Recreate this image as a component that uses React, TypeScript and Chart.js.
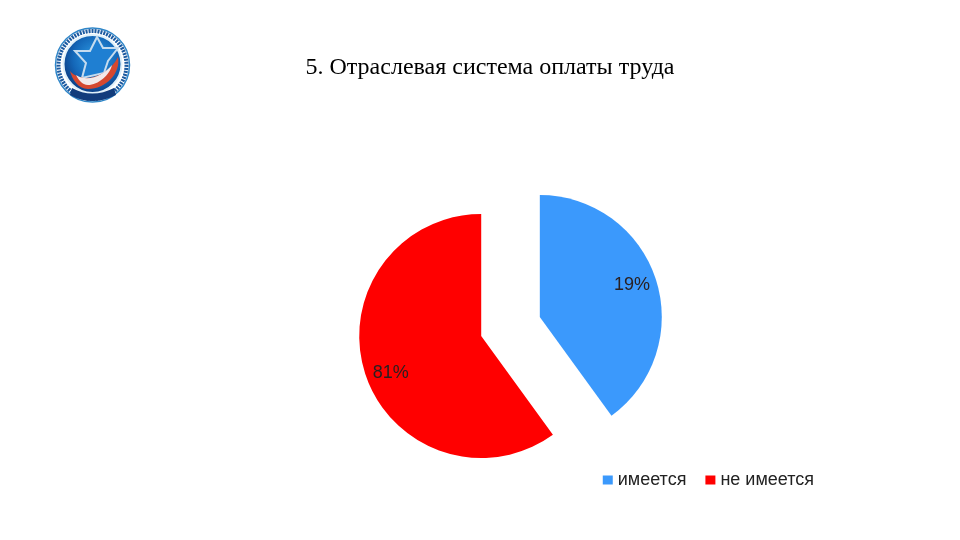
import React, { useEffect, useRef } from "react";
import { Chart, PieController, ArcElement, registerables } from "chart.js";

const title = "5. Отраслевая система оплаты труда";
const categories = ["имеется", "не имеется"];
// swept share of the circle as drawn in the picture
const sliceShares = [40, 60];
// printed labels (the picture's text does not follow the drawn shares)
const sliceLabels = ["19%", "81%"];
const sliceColors = ["#3b99fc", "#ff0000"];

// where the printed label sits on each slice, clockwise from 12 o'clock
const labelAngles = [71, 248];
const explode = 30.8;

// the built-in arc offset also grows the radius of big slices, so move the arcs here instead
class ExplodedArc extends ArcElement {
  static id = "explodedArc";
  draw(ctx: CanvasRenderingContext2D) {
    const mid = ((this as any).startAngle + (this as any).endAngle) / 2;
    ctx.save();
    ctx.translate(Math.cos(mid) * explode, Math.sin(mid) * explode);
    super.draw(ctx);
    ctx.restore();
  }
}

class ExplodedPie extends PieController {
  static id = "explodedPie";
  static defaults = { dataElementType: "explodedArc" };
  static overrides = PieController.overrides;
}

Chart.register(...registerables, ExplodedArc, ExplodedPie);

const sliceLabelPlugin = {
  id: "sliceLabels",
  afterDatasetsDraw(chart: Chart) {
    const { ctx } = chart;
    const arcs = chart.getDatasetMeta(0).data as any[];
    ctx.save();
    ctx.font = '18px "Liberation Sans"';
    ctx.fillStyle = "#2a2020";
    ctx.textAlign = "center";
    ctx.textBaseline = "middle";
    arcs.forEach((arc, i) => {
      const mid = (arc.startAngle + arc.endAngle) / 2;
      const a = ((labelAngles[i] - 90) * Math.PI) / 180;
      const r = arc.outerRadius * 0.8;
      ctx.fillText(
        sliceLabels[i],
        arc.x + Math.cos(mid) * explode + Math.cos(a) * r,
        arc.y + Math.sin(mid) * explode + Math.sin(a) * r
      );
    });
    ctx.restore();
  },
};

const Logo: React.FC = () => (
  <svg
    width="160"
    height="120"
    viewBox="0 0 160 120"
    style={{ position: "absolute", left: 0, top: 0 }}
  >
    <defs>
      <radialGradient id="disc" cx="55%" cy="40%" r="60%">
        <stop offset="0%" stopColor="#2f9fe8" />
        <stop offset="65%" stopColor="#1467b8" />
        <stop offset="100%" stopColor="#0d3f86" />
      </radialGradient>
    </defs>
    <circle cx="92.5" cy="65" r="37" fill="#ffffff" stroke="#2f86c8" strokeWidth="1.5" />
    <circle
      cx="92.5"
      cy="65"
      r="34"
      fill="none"
      stroke="#1c5aa0"
      strokeWidth="4"
      strokeDasharray="2 1"
    />
    <circle cx="92.5" cy="64" r="29" fill="url(#disc)" stroke="#dff0fa" strokeWidth="2" />
    <path
      d="M97 37 L103 48 L118 48 L108 61 L104 73 L82 78 L86 63 L75 51 L90 51 Z"
      fill="#1f7fd2"
      stroke="#c6dcef"
      strokeWidth="2"
    />
    <path
      d="M70 71 C82 85 108 77 118 57 C121 73 106 89 88 89 C78 89 72 79 70 71 Z"
      fill="#d5482f"
    />
    <path
      d="M76 75 C88 83 104 75 112 65 C110 75 98 85 88 85 C82 85 78 79 76 75 Z"
      fill="#f3e9e9"
    />
    <path d="M72 88 Q92 99 114 88 L116 95 Q92 107 70 95 Z" fill="#123c7c" />
  </svg>
);

const App: React.FC = () => {
  const canvasRef = useRef<HTMLCanvasElement | null>(null);

  useEffect(() => {
    const ctx = canvasRef.current?.getContext("2d");
    if (!ctx) return;

    const chart = new Chart(ctx, {
      type: "explodedPie" as any,
      data: {
        labels: categories,
        datasets: [
          {
            data: sliceShares,
            backgroundColor: sliceColors,
            borderWidth: 0,
          },
        ],
      },
      options: {
        animation: false,
        responsive: false,
        radius: 122,
        layout: { padding: { left: 184, right: 123, top: 205, bottom: 41 } },
        plugins: {
          tooltip: { enabled: false },
          legend: {
            position: "bottom",
            align: "end",
            labels: {
              // thin box with a thick stroke: keeps the text as close to the swatch as in the picture
              boxWidth: 2,
              boxHeight: 1,
              padding: 23,
              font: { family: '"Liberation Sans"', size: 18 },
              generateLabels: () =>
                categories.map((text, i) => ({
                  text,
                  index: i,
                  fillStyle: sliceColors[i],
                  strokeStyle: sliceColors[i],
                  lineWidth: 8,
                  fontColor: "#222222",
                })),
            },
          },
        },
      } as any,
      plugins: [sliceLabelPlugin],
    });

    return () => {
      chart.destroy();
    };
  }, []);

  return (
    <div
      style={{
        position: "fixed",
        left: 0,
        top: 0,
        width: 960,
        height: 540,
        background: "#ffffff",
      }}
    >
      <canvas
        ref={canvasRef}
        width={960}
        height={540}
        style={{ position: "absolute", left: 0, top: 0 }}
      />
      <Logo />
      <div
        style={{
          position: "absolute",
          left: 0,
          top: 52,
          width: 980,
          textAlign: "center",
          fontFamily: '"Liberation Serif"',
          fontSize: 24,
          lineHeight: "28px",
          color: "#000000",
        }}
      >
        {title}
      </div>
    </div>
  );
};

export default App;
